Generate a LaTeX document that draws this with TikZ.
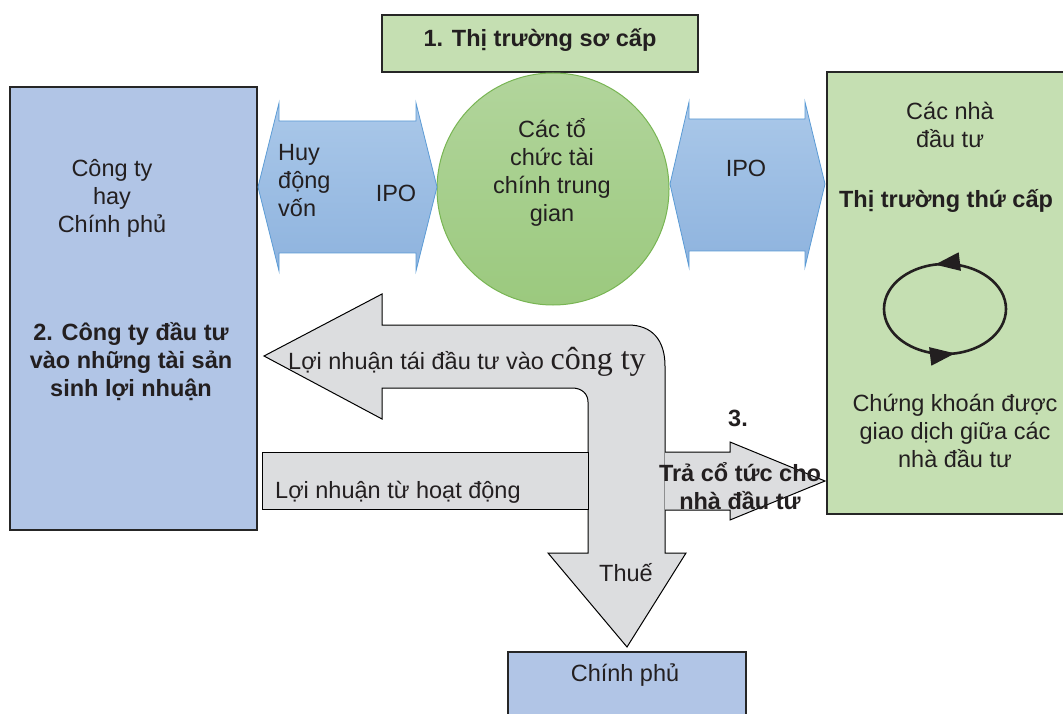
\documentclass[tikz,border=0pt]{standalone}
\usepackage{fontspec}
\setmainfont{Liberation Sans}
\newfontfamily\serifvn{Liberation Serif}
\usetikzlibrary{arrows.meta,decorations.markings}
\definecolor{boxblue}{HTML}{B1C5E6}
\definecolor{boxgreen}{HTML}{C5DFB2}
\definecolor{circtop}{HTML}{B2D59C}
\definecolor{circbot}{HTML}{9BC97E}
\definecolor{circedge}{HTML}{78B553}
\definecolor{arrtop}{HTML}{AAC8E9}
\definecolor{arrbot}{HTML}{8EB3DE}
\definecolor{arredge}{HTML}{5B9BD5}
\definecolor{flowgray}{HTML}{DCDDDF}
\definecolor{inkdark}{HTML}{231F20}

\begin{document}
\begin{tikzpicture}[x=1pt,y=-1pt,
    txt/.style={font=\fontsize{23.5}{28}\selectfont, text=inkdark, align=center, inner sep=0pt},
    btxt/.style={txt, font=\fontsize{23.5}{28}\selectfont\bfseries},
    panel/.style={draw=black!85, line width=1.2pt},
    bluearrow/.style={draw=arredge, line width=0.8pt, top color=arrtop, bottom color=arrbot},
    grayarrow/.style={fill=flowgray, draw=black, line width=1pt, line join=miter}]
    \useasboundingbox (0,0) rectangle (1063,714);
    \clip (0,0) rectangle (1063,714);

    % Draw the boxes
    \filldraw[panel, fill=boxgreen] (382,15) rectangle (698,72);
    \filldraw[panel, fill=boxblue] (10,87) rectangle (257,530);
    \filldraw[panel, fill=boxgreen] (827,72) rectangle (1075,514);
    \filldraw[panel, fill=boxblue] (508,652) rectangle (746,730);

    % Middle circle
    \shade[top color=circtop, bottom color=circbot, draw=circedge, line width=1pt]
        (553,189) circle (116pt);

    % Double arrows of the primary market
    \path[bluearrow] (258,187) -- (279,103) -- (279,121) -- (416,121) -- (416,103)
        -- (437,187) -- (416,271) -- (416,253) -- (279,253) -- (279,271) -- cycle;
    \path[bluearrow] (670,184) -- (689,102) -- (689,119) -- (805,119) -- (805,102)
        -- (825,184) -- (805,267) -- (805,251) -- (689,251) -- (689,267) -- cycle;

    % Bent arrow: reinvested profit and tax
    \path[grayarrow] (264,356) -- (382,294) -- (382,325) -- (628,325)
        .. controls (652,325) and (665,340) .. (665,366) -- (665,553) -- (686,553)
        -- (627,647) -- (548,553) -- (588,553) -- (588,402)
        .. controls (588,394) and (582,388) .. (572,388) -- (382,388) -- (382,419) -- cycle;

    % Profit bar and dividend arrow
    \path[grayarrow] (262,452) rectangle (588,509);
    \path[grayarrow] (665,452) -- (730,452) -- (730,442) -- (825,481)
        -- (730,520) -- (730,510) -- (665,510);

    % Trading cycle
    \draw[line width=2.6pt, inkdark,
        postaction={decorate, decoration={markings,
            mark=at position 0.28 with {\arrow{Triangle[length=25pt,width=18pt]}},
            mark=at position 0.78 with {\arrow{Triangle[length=25pt,width=18pt]}}}}]
        (945,309) ellipse [x radius=61pt, y radius=45pt];

    % Labels
    \node[btxt] (primary) at (540,40) {1. Thị trường sơ cấp};
    \node[txt] (issuer) at (112,198) {Công ty\\hay\\Chính phủ};
    \node[btxt] (invest) at (131,362) {2. Công ty đầu tư\\vào những tài sản\\sinh lợi nhuận};
    \node[txt, align=left, anchor=west] (raise) at (278,181) {Huy\\động\\vốn};
    \node[txt] (ipoleft) at (396,193) {IPO};
    \node[txt] (middle) at (552,172) {Các tổ\\chức tài\\chính trung\\gian};
    \node[txt] (iporight) at (746,168) {IPO};
    \node[txt] (investors) at (950,125) {Các nhà\\đầu tư};
    \node[btxt] (secondary) at (946,201) {Thị trường thứ cấp};
    \node[txt] (traded) at (955,431) {Chứng khoán được\\giao dịch giữa các\\nhà đầu tư};
    \node[txt, anchor=west] (reinvest) at (288,362)
        {Lợi nhuận tái đầu tư vào {\serifvn\fontsize{32}{34}\selectfont công ty}};
    \node[txt, anchor=west] (operating) at (275,492) {Lợi nhuận từ hoạt động};
    \node[btxt] (step3) at (738,418) {3.};
    \node[btxt] (dividend) at (740,486) {Trả cổ tức cho\\nhà đầu tư};
    \node[txt] (tax) at (626,573) {Thuế};
    \node[txt] (gov) at (625,675) {Chính phủ};
\end{tikzpicture}
\end{document}
